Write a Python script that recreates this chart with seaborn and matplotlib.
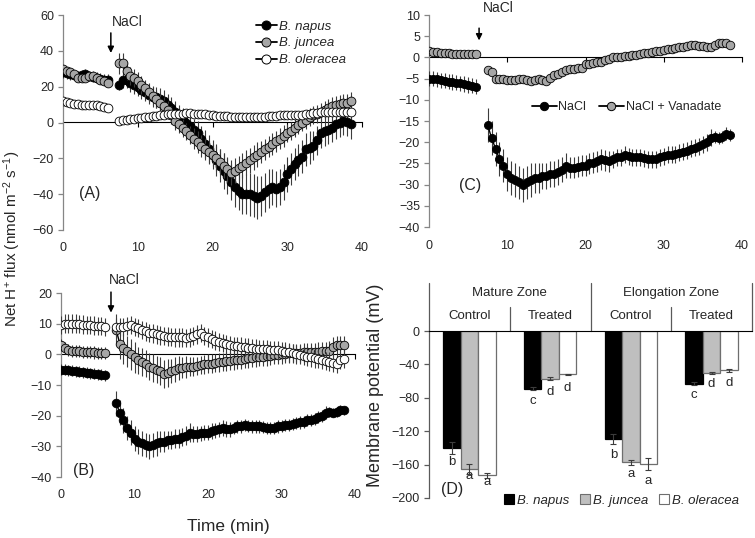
import numpy as np
import pandas as pd
import matplotlib
matplotlib.use("Agg")
import matplotlib.pyplot as plt
import seaborn as sns
from matplotlib.lines import Line2D
from matplotlib.patches import Patch

# ---------------- data ----------------
T_PRE = list(np.arange(0, 6.01, 0.5))      # 13 points before NaCl
T_POST = list(np.arange(7.5, 38.51, 0.5))  # 63 points after NaCl
TIME = T_PRE + T_POST
PHASE = ["pre"] * len(T_PRE) + ["post"] * len(T_POST)

# Panel A
A_NAPUS = [28, 27.5, 27, 26.5, 26, 26.5, 27, 26, 25.5, 25, 24.5, 24, 24,
           21, 24, 24, 22, 21, 20, 18, 17, 15.5, 14.5,
           14, 13, 12, 10, 8, 6, 4, 2, 0, -2,
           -4, -6, -9, -12, -15, -18, -21, -24, -27, -30,
           -33, -36, -38, -40, -40, -40, -41, -42, -41, -39,
           -37, -36, -37, -36, -33, -29, -26, -23, -21, -19,
           -15, -14, -13, -10, -6, -5, -4, -3, -1, 0,
           1, 0.5, -1]
A_NAPUS_ERR = [3, 3, 3, 3, 3, 3, 3, 3, 3, 3, 3, 3, 3,
               3, 5, 5, 5, 5, 5, 5, 5, 5, 6,
               6, 6, 6, 6, 6, 6, 6, 6, 6, 6,
               6, 7, 7, 8, 8, 8, 9, 9, 10, 10,
               10, 11, 11, 11, 11, 12, 12, 12, 11, 11,
               11, 10, 10, 10, 10, 10, 9, 9, 9, 9,
               9, 9, 8, 8, 8, 8, 8, 8, 8, 8,
               8, 8, 8]
A_JUNCEA = [30, 29, 28, 27, 25, 25, 25, 26, 26, 25, 24, 23, 22,
            33, 33, 29, 26, 25, 23, 21, 19, 17, 15,
            13, 11, 9, 7, 4, 1, -1, -3, -5, -7,
            -9, -11, -13, -15, -16.5, -18, -20, -22, -24, -26,
            -28, -27, -25.5, -24, -22.5, -21, -19.5, -18, -16.5, -15,
            -13.5, -12, -10.5, -9, -7.5, -6, -4.5, -3, -1.5, 0,
            1.5, 3, 4, 5, 6, 7, 8, 9, 10, 10.5,
            11, 11, 12]
A_JUNCEA_ERR = [2, 2, 2, 2, 2, 2, 2, 2, 2, 2, 2, 2, 2,
                6, 6, 5, 5, 5, 5, 5, 5, 5, 5,
                5, 5, 5, 5, 5, 5, 5, 5, 5, 5,
                6, 6, 6, 6, 6, 6, 7, 7, 7, 7,
                7, 7, 7, 7, 7, 7, 7, 7, 6, 6,
                6, 6, 6, 6, 6, 5, 5, 5, 5, 5,
                5, 5, 5, 5, 5, 5, 5, 5, 5, 5,
                5, 5, 5]
A_OLERACEA = [12, 11.5, 11, 10.5, 10.5, 10, 10, 10, 9.5, 9.5, 9, 8.5, 8,
              1, 1.5, 1.5, 2, 2, 2.5, 2.5, 3, 3, 3.5,
              3.5, 4, 4, 4.5, 4.5, 5, 5, 5, 5.5, 5.5,
              5, 5, 4.5, 4.5, 4, 4, 3.8, 3.6, 3.5, 3.4,
              3.3, 3.2, 3, 3, 3, 3, 3, 3, 3, 3.2,
              3.4, 3.6, 3.8, 4, 4, 4, 4, 4, 4, 4.2,
              4.5, 5, 5.5, 5.5, 6, 6, 6, 6, 6, 6,
              6, 6, 6]
A_OLERACEA_ERR = [1, 1, 1, 1, 1, 1, 1, 1, 1, 1, 1, 1, 1,
                  1, 1, 1, 1, 1, 1, 1, 1, 1, 1,
                  1, 1, 1, 1, 1, 1, 1, 1, 1, 1,
                  1, 1, 1, 1, 1, 1, 1, 1, 1, 1,
                  1, 1, 1, 1, 1, 1, 1, 1, 1, 1,
                  1, 1, 1, 1, 1, 1, 1, 1, 1, 1,
                  1, 1, 1, 1, 1, 1, 1, 1, 1, 1,
                  1, 1, 1]

# Panel B (B. napus series is also the "NaCl" series of panel C)
B_NAPUS = [-5, -5, -5.2, -5.4, -5.5, -5.7, -5.8, -6, -6.1, -6.3, -6.5, -6.7, -6.9,
           -16, -19, -21.5, -24, -25.5, -27.5, -28.5, -29, -29.5, -30,
           -29.5, -29, -28.5, -28.5, -28, -28, -27.5, -27.5, -27, -26.5,
           -25.5, -26, -26, -25.8, -25.5, -25.5, -25, -24.8, -24.5, -24,
           -24.3, -24.5, -24, -23.5, -23.5, -23, -23.3, -23.5, -23.5, -23.5,
           -23.8, -24, -24, -24, -23.5, -23.3, -23, -23, -22.8, -22.5,
           -22.2, -22, -21.5, -21.3, -21, -20.5, -20, -19, -18.8, -19,
           -18.8, -18, -18.3]
B_NAPUS_ERR = [1.8, 1.8, 1.8, 1.8, 1.8, 1.8, 1.8, 1.8, 1.8, 1.8, 1.8, 1.8, 1.8,
               4, 4, 4, 4, 4, 4, 4, 4, 4, 4,
               4, 4, 3.5, 3.5, 3, 3, 3, 3, 3, 3,
               3, 2.5, 2.5, 2.5, 2.5, 2.5, 2.5, 2.5, 2.5, 2.5,
               2.5, 2.5, 2, 2, 2, 2, 2, 2, 2, 2,
               2, 2, 2, 2, 2, 2, 2, 2, 2, 2,
               2, 2, 2, 2, 2, 2, 2, 2, 1.5, 1.5,
               1.5, 1.5, 1.5]
B_JUNCEA = [3, 2, 1.5, 1.2, 1, 1, 0.8, 0.8, 0.7, 0.6, 0.5, 0.5, 0.5,
            8, 3.5, 2, 1, 0, -1, -2, -2.5, -3, -4,
            -4.5, -5, -5.5, -6.5, -6, -5.5, -5, -4.5, -4.3, -4.2,
            -4, -4, -3.8, -3.5, -3.3, -3, -3, -2.8, -2.6, -2.5,
            -2.3, -2.2, -2, -1.8, -1.7, -1.5, -1.3, -1.2, -1, -0.9,
            -0.8, -0.7, -0.5, -0.3, -0.2, 0, 0.2, 0.3, 0.4, 0.5,
            0.5, 0.6, 0.7, 0.8, 0.8, 0.9, 1, 1, 1.2, 2.5,
            3, 3, 3]
B_JUNCEA_ERR = [2, 2, 2, 2, 2, 2, 2, 2, 2, 2, 2, 2, 2,
                5, 5, 5, 5, 5, 5, 4.5, 4.5, 4.5, 4.5,
                4.5, 4.5, 4.5, 4.5, 4.5, 4, 4, 4, 3.5, 3.5,
                3, 3, 3, 3, 3, 3, 3, 3, 3, 3,
                3, 3, 3, 3, 3, 3, 3, 3, 3, 3,
                3, 3, 3, 3, 3, 3, 3, 3, 3, 3,
                3, 3, 3, 3, 3, 3, 3, 3, 3, 3,
                3, 3, 3]
B_OLERACEA = [9.5, 10, 10, 10, 10, 9.8, 9.7, 9.6, 9.5, 9.4, 9.3, 9.2, 9,
              9, 9, 9, 9.3, 9.5, 9, 8.5, 8, 7.5, 7,
              6.8, 6.5, 6.2, 6, 5.8, 5.7, 5.5, 5.5, 5.5, 5.3,
              5.5, 6, 6.5, 7, 6, 5.5, 5, 4.5, 4, 3.6,
              3.3, 3, 2.8, 2.6, 2.5, 2.4, 2.2, 2, 1.9, 1.8,
              1.7, 1.6, 1.5, 1.4, 1.3, 1.1, 0.9, 0.6, 0.3, 0,
              -0.3, -0.5, -0.8, -1, -1.3, -1.6, -1.9, -2.1, -2.4, -2.8,
              -3, -1.8, -1.6]
B_OLERACEA_ERR = [3, 3, 3, 3, 3, 3, 3, 3, 3, 3, 3, 3, 3,
                  3, 3, 3, 3, 3, 3, 3, 3, 3, 3,
                  3, 3, 3, 3, 3, 3, 3, 3, 3, 3,
                  3, 3, 3, 3, 3, 3, 3, 3, 3, 3,
                  3, 3, 3, 3, 3, 3, 3, 3, 3, 3,
                  3, 3, 3, 3, 3, 3, 3, 3, 3, 3,
                  3, 3, 3, 3, 3, 3, 3, 3, 3, 3,
                  3, 3, 3]

# Panel C
C_VANADATE = [1.5, 1.3, 1.2, 1.1, 1, 1, 0.9, 0.9, 0.8, 0.8, 0.8, 0.8, 0.8,
              -3, -3.5, -5, -5, -5.2, -5.3, -5.4, -5.3, -5.2, -5,
              -5.3, -5.5, -5.3, -5.2, -5.4, -5.5, -4.8, -4.2, -3.8, -3.4,
              -3, -2.8, -2.7, -2.6, -2.4, -1.6, -1.5, -1.4, -1.2, -1,
              -0.6, -0.3, 0, 0, 0.2, 0.3, 0.4, 0.5, 0.6, 0.7,
              1, 1.1, 1.3, 1.4, 1.6, 1.7, 1.9, 2, 2.2, 2.4,
              2.5, 2.7, 2.9, 3, 2.8, 2.6, 2.5, 2.4, 3, 3.3,
              3.5, 3.4, 2.9]
C_VANADATE_ERR = [0.5, 0.5, 0.5, 0.5, 0.5, 0.5, 0.5, 0.5, 0.5, 0.5, 0.5, 0.5, 0.5,
                  0.8, 0.8, 0.8, 0.8, 0.8, 0.8, 0.8, 0.8, 0.8, 0.8,
                  0.8, 0.8, 0.8, 0.8, 0.8, 0.8, 0.8, 0.8, 0.8, 0.8,
                  0.8, 0.8, 0.8, 0.8, 0.8, 0.8, 0.8, 0.8, 0.8, 0.8,
                  0.8, 0.8, 0.8, 0.8, 0.8, 0.8, 0.8, 0.8, 0.8, 0.8,
                  0.8, 0.8, 0.8, 0.8, 0.8, 0.8, 0.8, 0.8, 0.8, 0.8,
                  0.8, 0.8, 0.8, 0.8, 0.8, 0.8, 0.8, 0.8, 0.8, 0.8,
                  0.8, 0.8, 0.8]

# Panel D
CATS = ["MZ Control", "MZ Treated", "EZ Control", "EZ Treated"]
SPECIES = ["B. napus", "B. juncea", "B. oleracea"]
MP_NAPUS = [-140, -69, -129, -63]
MP_JUNCEA = [-165, -57, -157, -50.5]
MP_OLERACEA = [-173, -52, -159, -47]
MP_NAPUS_ERR = [7, 2, 6, 2]
MP_JUNCEA_ERR = [6, 1.5, 3, 1.5]
MP_OLERACEA_ERR = [3, 1, 7, 2]
LET_NAPUS = ["b", "c", "b", "c"]
LET_JUNCEA = ["a", "d", "a", "d"]
LET_OLERACEA = ["a", "d", "a", "d"]
LET_GAP_NAPUS = [10, 13, 13, 12]
LET_GAP_JUNCEA = [3, 14, 11, 11]
LET_GAP_OLERACEA = [5, 15, 14, 13]

# ---------------- style ----------------
sns.set_theme(style="ticks")
plt.rcParams["font.family"] = ["Liberation Sans", "DejaVu Sans"]
plt.rcParams["mathtext.default"] = "regular"

GREY = "#a6a6a6"
SPINE = "#868686"
TICKFS = 9

fig = plt.figure(figsize=(7.55, 5.38), dpi=100)
W, H = 755.0, 538.0
axA = fig.add_axes([63 / W, 1 - 230 / H, 299 / W, 215 / H])
axB = fig.add_axes([61 / W, 1 - 477 / H, 294 / W, 184 / H])
axC = fig.add_axes([429 / W, 1 - 227 / H, 313 / W, 212 / H])
axD = fig.add_axes([429 / W, 1 - 498 / H, 323 / W, 167 / H])


def style_flux(ax, ylim, yticks):
    ax.set_xlim(0, 40)
    ax.set_ylim(*ylim)
    ax.set_yticks(yticks)
    ax.set_xticks([0, 10, 20, 30, 40])
    for s in ["top", "right", "bottom"]:
        ax.spines[s].set_visible(False)
    ax.spines["left"].set_color(SPINE)
    ax.spines["left"].set_linewidth(0.9)
    ax.tick_params(axis="y", direction="out", length=3.5, width=0.9,
                   color=SPINE, labelsize=TICKFS, pad=3, left=True)
    ax.tick_params(axis="x", length=0, labelsize=TICKFS, pad=9, bottom=True)
    frac = (0 - ylim[0]) / (ylim[1] - ylim[0])
    sec = ax.secondary_xaxis(frac)
    sec.set_alignment("bottom")
    sec.set_xticks([10, 20, 30, 40])
    sec.tick_params(axis="x", direction="out", length=3.5, width=0.8,
                    color="black", labelbottom=False, labeltop=False,
                    bottom=True, top=False)
    sec.spines["bottom"].set_color("black")
    sec.spines["bottom"].set_linewidth(0.8)


def draw_series(ax, vals, errs, face, size, z):
    ax.errorbar(TIME, vals, yerr=errs, fmt="none", ecolor="#3c3c3c",
                elinewidth=0.8, capsize=0, zorder=z)
    sns.lineplot(x=TIME, y=vals, units=PHASE, estimator=None, color="black",
                 lw=1.0, ax=ax, legend=False, zorder=z + 0.1)
    sns.scatterplot(x=TIME, y=vals, color=face, edgecolor="black",
                    linewidth=0.6, s=size, ax=ax, legend=False, zorder=z + 0.2)


def nacl(ax, x, y0, y1, tx, ty):
    ax.annotate("", xy=(x, y1), xytext=(x, y0), annotation_clip=False,
                arrowprops=dict(arrowstyle="-|>", color="black", lw=1.1,
                                mutation_scale=9, shrinkA=0, shrinkB=0))
    ax.text(tx, ty, "NaCl", ha="center", va="center", fontsize=10, clip_on=False)


# Panel A
style_flux(axA, (-60, 60), [-60, -40, -20, 0, 20, 40, 60])
draw_series(axA, A_NAPUS, A_NAPUS_ERR, "black", 40, 3)
draw_series(axA, A_JUNCEA, A_JUNCEA_ERR, GREY, 40, 4)
draw_series(axA, A_OLERACEA, A_OLERACEA_ERR, "white", 40, 5)
nacl(axA, 6.4, 50, 38.8, 8.6, 56)
axA.text(3.6, -39.5, "(A)", fontsize=11.5, ha="center", va="center")
hA = [Line2D([], [], color="black", lw=1.3, marker="o", mfc=c, mec="black",
             ms=6.5, mew=0.7) for c in ["black", GREY, "white"]]
axA.legend(hA, SPECIES, loc="upper left", bbox_to_anchor=(0.645, 0.975),
           frameon=False, prop={"style": "italic", "size": 9.5},
           handlelength=1.6, handletextpad=0.15, labelspacing=0.35,
           borderaxespad=0, borderpad=0)

# Panel B
style_flux(axB, (-40, 20), [-40, -30, -20, -10, 0, 10, 20])
draw_series(axB, B_NAPUS, B_NAPUS_ERR, "black", 38, 3)
draw_series(axB, B_JUNCEA, B_JUNCEA_ERR, GREY, 38, 4)
draw_series(axB, B_OLERACEA, B_OLERACEA_ERR, "white", 38, 5)
nacl(axB, 6.8, 20.3, 13.6, 8.6, 24.2)
axB.text(3.1, -37.8, "(B)", fontsize=11.5, ha="center", va="center")

# Panel C
style_flux(axC, (-40, 10), [-40, -35, -30, -25, -20, -15, -10, -5, 0, 5, 10])
draw_series(axC, B_NAPUS, B_NAPUS_ERR, "black", 34, 3)
draw_series(axC, C_VANADATE, C_VANADATE_ERR, GREY, 38, 4)
nacl(axC, 6.4, 6.9, 4.0, 8.8, 11.7)
axC.text(5.2, -30.1, "(C)", fontsize=11.5, ha="center", va="center")
hC = [Line2D([], [], color="black", lw=1.3, marker="o", mfc=c, mec="black",
             ms=6, mew=0.7) for c in ["black", GREY]]
axC.legend(hC, ["NaCl", "NaCl + Vanadate"], loc="center",
           bbox_to_anchor=(0.63, 0.566), ncol=2, frameon=False,
           prop={"size": 9}, handlelength=2.0, handletextpad=0.15,
           columnspacing=1.0, borderaxespad=0, borderpad=0)

# Panel D
PAL = {"B. napus": "black", "B. juncea": "#bfbfbf", "B. oleracea": "white"}
EDGE = {"B. napus": "black", "B. juncea": "#6e6e6e", "B. oleracea": "#6e6e6e"}
dfD = pd.DataFrame({
    "cat": CATS * 3,
    "sp": [s for s in SPECIES for _ in CATS],
    "val": MP_NAPUS + MP_JUNCEA + MP_OLERACEA,
})
sns.barplot(data=dfD, x="cat", y="val", hue="sp", order=CATS, hue_order=SPECIES,
            palette=PAL, saturation=1, width=0.65, gap=0, errorbar=None,
            linewidth=0.9, edgecolor="black", ax=axD, legend=False)
errs = {"B. napus": MP_NAPUS_ERR, "B. juncea": MP_JUNCEA_ERR, "B. oleracea": MP_OLERACEA_ERR}
lets = {"B. napus": LET_NAPUS, "B. juncea": LET_JUNCEA, "B. oleracea": LET_OLERACEA}
gaps = {"B. napus": LET_GAP_NAPUS, "B. juncea": LET_GAP_JUNCEA, "B. oleracea": LET_GAP_OLERACEA}
for sp, cont in zip(SPECIES, axD.containers):
    for bar in cont:
        bar.set_edgecolor(EDGE[sp])
        xc = bar.get_x() + bar.get_width() / 2
        ci = int(round(xc))
        yv = bar.get_y() + bar.get_height()
        e = errs[sp][ci]
        axD.errorbar([xc], [yv], yerr=[e], fmt="none", ecolor="#3c3c3c",
                     elinewidth=0.8, capsize=2.5, capthick=0.8, zorder=5)
        axD.text(xc, yv - e - gaps[sp][ci], lets[sp][ci], ha="center",
                 va="center", fontsize=9.5)

axD.set_xlim(-0.5, 3.5)
axD.set_ylim(-200, 0)
axD.set_yticks([0, -40, -80, -120, -160, -200])
axD.set_xticks([])
axD.set_xlabel("")
axD.set_ylabel("")
for s in ["right", "bottom"]:
    axD.spines[s].set_visible(False)
axD.spines["top"].set_color("black")
axD.spines["top"].set_linewidth(0.8)
axD.spines["left"].set_color("#5a5a5a")
axD.spines["left"].set_linewidth(0.9)
axD.tick_params(axis="y", direction="out", length=3.5, width=0.9,
                color="#5a5a5a", labelsize=TICKFS, pad=3, left=True)
trD = axD.get_xaxis_transform()
for x, top in [(-0.5, 1.287), (0.5, 1.144), (1.5, 1.287), (2.5, 1.144), (3.5, 1.287)]:
    axD.plot([x, x], [1, top], transform=trD, color="#5a5a5a", lw=0.9, clip_on=False)
for x, lab in [(0.5, "Mature Zone"), (2.5, "Elongation Zone")]:
    axD.text(x, 1.228, lab, transform=trD, ha="center", va="center", fontsize=9.5)
for x, lab in [(0, "Control"), (1, "Treated"), (2, "Control"), (3, "Treated")]:
    axD.text(x, 1.09, lab, transform=trD, ha="center", va="center", fontsize=9.5)
axD.text(-0.215, -190, "(D)", fontsize=11.5, ha="center", va="center")
hD = [Patch(facecolor=PAL[s], edgecolor=EDGE[s], lw=0.8) for s in SPECIES]
axD.legend(hD, SPECIES, loc="center", bbox_to_anchor=(0.596, -0.015), ncol=3,
           frameon=False, prop={"style": "italic", "size": 9.5},
           handlelength=0.75, handleheight=0.75, handletextpad=0.25,
           columnspacing=0.8, borderaxespad=0, borderpad=0)

# shared labels
fig.text(12 / W, 1 - 239 / H, "Net H$^{+}$ flux (nmol m$^{-2}$ s$^{-1}$)",
         rotation=90, ha="center", va="center", fontsize=11)
fig.text(228 / W, 1 - 526 / H, "Time (min)", ha="center", va="center", fontsize=12.5)
fig.text(376 / W, 1 - 385 / H, "Membrane potential (mV)", rotation=90,
         ha="center", va="center", fontsize=13)

fig.savefig("out.png", dpi=100)
